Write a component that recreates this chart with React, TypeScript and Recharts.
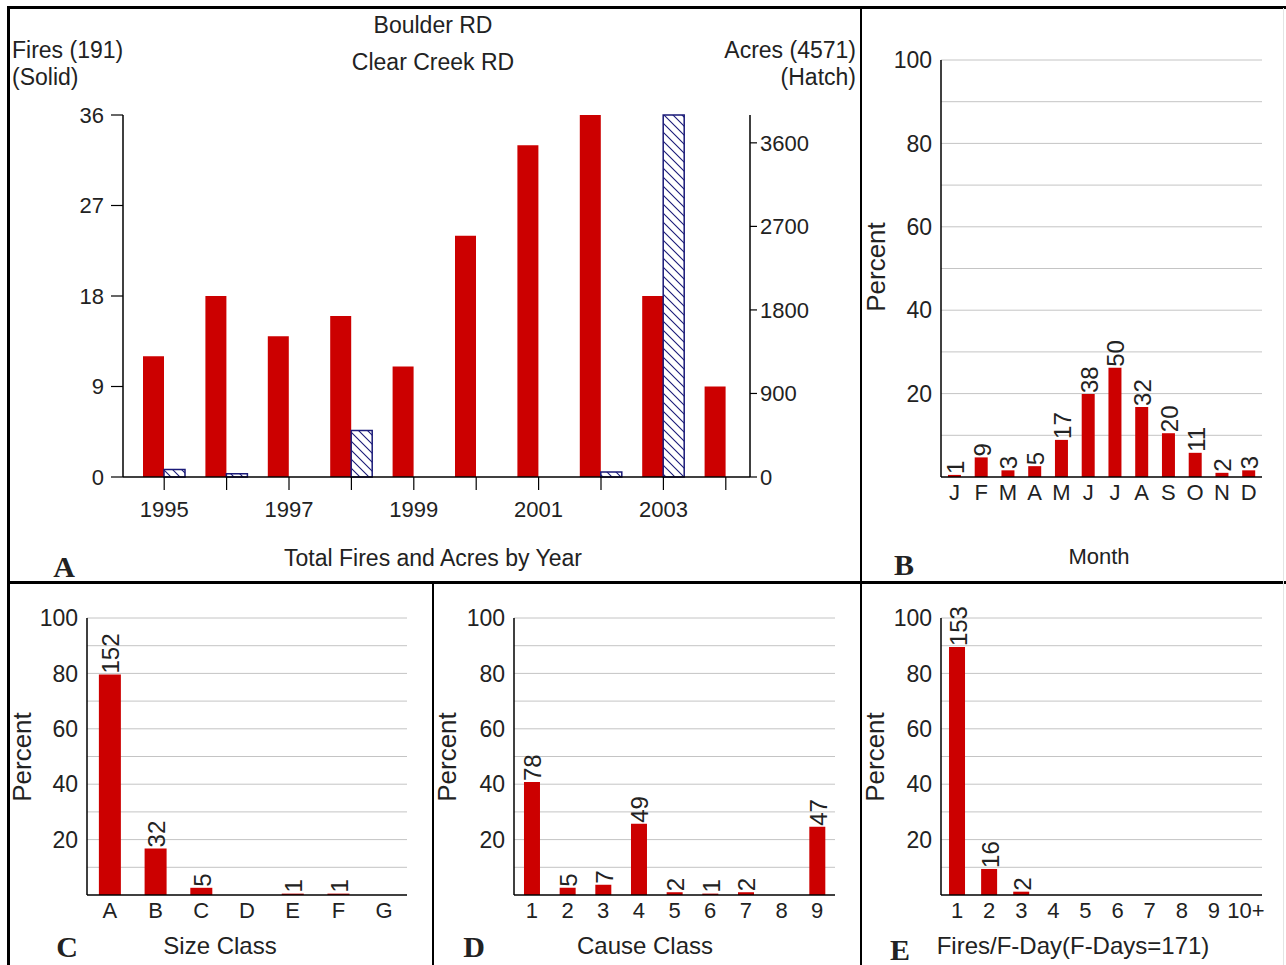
import React from "react";
import { BarChart, Bar, XAxis, YAxis, CartesianGrid, LabelList } from "recharts";

// panel A: fires and acres by year
const years = ["1995", "1996", "1997", "1998", "1999", "2000", "2001", "2002", "2003", "2004"];
const fires = [12, 18, 14, 16, 11, 24, 33, 36, 18, 9];
const acres = [80, 36, 0, 500, 0, 0, 0, 54, 3900, 0];
const fireTicks = [0, 9, 18, 27, 36];
const acreTicks = [0, 900, 1800, 2700, 3600];

// panel B: month
const months = ["J", "F", "M", "A", "M", "J", "J", "A", "S", "O", "N", "D"];
const monthCounts = [1, 9, 3, 5, 17, 38, 50, 32, 20, 11, 2, 3];
const monthPct = [0.5, 4.7, 1.6, 2.6, 8.9, 19.9, 26.2, 16.8, 10.5, 5.8, 1.0, 1.6];

// panel C: size class
const sizeClasses = ["A", "B", "C", "D", "E", "F", "G"];
const sizeCounts = [152, 32, 5, 0, 1, 1, 0];
const sizePct = [79.6, 16.8, 2.6, 0, 0.5, 0.5, 0];

// panel D: cause class
const causeClasses = ["1", "2", "3", "4", "5", "6", "7", "8", "9"];
const causeCounts = [78, 5, 7, 49, 2, 1, 2, 0, 47];
const causePct = [40.8, 2.6, 3.7, 25.7, 1.0, 0.5, 1.0, 0, 24.6];

// panel E: fires per fire-day
const fdayClasses = ["1", "2", "3", "4", "5", "6", "7", "8", "9", "10+"];
const fdayCounts = [153, 16, 2, 0, 0, 0, 0, 0, 0, 0];
const fdayPct = [89.5, 9.4, 1.2, 0, 0, 0, 0, 0, 0, 0];

const pctTicks = [20, 40, 60, 80, 100];
const pctGrid = [10, 20, 30, 40, 50, 60, 70, 80, 90, 100];

const RED = "#CC0000";
const NAVY = "#1a1a78";
const TXT = "#222";
const FONT = "'Liberation Sans', Arial, sans-serif";

const VLabel = (props: any) => {
  const { x, y, width, value } = props;
  if (!value) return null;
  const cx = Number(x) + Number(width) / 2 + 1;
  const ty = Number(y) - 1;
  return (
    <text x={cx} y={ty} transform={`rotate(-90 ${cx} ${ty})`} textAnchor="start" dominantBaseline="central" fontSize={24} fill={TXT}>
      {value}
    </text>
  );
};

const YearTick = (props: any) => {
  const { x, y, payload, index } = props;
  if (index % 2 !== 0) return <g />;
  return (
    <text x={x} y={y} dy="0.71em" textAnchor="middle" fontSize={22} fill={TXT}>
      {payload.value}
    </text>
  );
};

function Txt({ x, y, size = 23, anchor = "middle", rotate = false, bold = false, serif = false, children }: any) {
  const tx = anchor === "middle" ? "-50%" : anchor === "end" ? "-100%" : "0";
  return (
    <div
      style={{
        position: "absolute",
        left: x,
        top: y,
        fontSize: size,
        lineHeight: 1,
        whiteSpace: "nowrap",
        color: TXT,
        fontWeight: bold ? 700 : 400,
        fontFamily: serif ? "'Liberation Serif', 'Times New Roman', serif" : FONT,
        transform: `translate(${tx}, -50%)${rotate ? " rotate(-90deg)" : ""}`,
      }}
    >
      {children}
    </div>
  );
}

function PctPanel({ left, top, width, height, margin, cats, pct, counts, gap }: any) {
  const data = cats.map((c: string, i: number) => ({ name: c, pct: pct[i], count: counts[i] }));
  return (
    <div style={{ position: "absolute", left, top }}>
      <BarChart width={width} height={height} data={data} margin={margin} barCategoryGap={gap}>
        <CartesianGrid horizontalValues={pctGrid} vertical={false} stroke="#c4c4c4" />
        <XAxis
          dataKey="name"
          interval={0}
          height={30}
          tickSize={0}
          tickMargin={7}
          axisLine={{ stroke: "#000", strokeWidth: 1.5 }}
          tick={{ fontSize: 22, fill: TXT }}
        />
        <YAxis
          domain={[0, 100]}
          ticks={pctTicks}
          width={50}
          tickSize={0}
          tickMargin={9}
          axisLine={{ stroke: "#000", strokeWidth: 1.5 }}
          tick={{ fontSize: 23, fill: TXT }}
        />
        <Bar dataKey="pct" fill={RED} isAnimationActive={false}>
          <LabelList dataKey="count" content={VLabel} />
        </Bar>
      </BarChart>
    </div>
  );
}

export default function App() {
  const yearData = years.map((y, i) => ({ year: y, fires: fires[i], acres: acres[i] }));
  const line = (l: number, t: number, w: number, h: number, c = "#000") => (
    <div style={{ position: "absolute", left: l, top: t, width: w, height: h, background: c }} />
  );
  return (
    <div style={{ position: "absolute", left: 0, top: 0, width: 1286, height: 965, background: "#fff", overflow: "hidden", fontFamily: FONT }}>
      {/* panel A */}
      <div style={{ position: "absolute", left: 0, top: 0 }}>
        <BarChart width={860} height={580} data={yearData} margin={{ top: 115, right: 50, bottom: 63, left: 63 }} barGap={0} barSize={21}>
          <defs>
            <pattern id="hatch" patternUnits="userSpaceOnUse" width="9" height="9">
              <rect width="9" height="9" fill="#fff" />
              <path d="M0,0 L9,9 M-3,6 L3,12 M6,-3 L12,3" stroke={NAVY} strokeWidth={1.1} />
            </pattern>
          </defs>
          <XAxis
            dataKey="year"
            interval={0}
            height={40}
            padding={{ left: 10, right: -7 }}
            tickSize={13}
            tickMargin={11}
            axisLine={{ stroke: "#000", strokeWidth: 1.5 }}
            tickLine={{ stroke: "#000", strokeWidth: 1.2 }}
            tick={YearTick}
          />
          <YAxis
            yAxisId="left"
            orientation="left"
            domain={[0, 36]}
            ticks={fireTicks}
            width={60}
            tickSize={12}
            tickMargin={7}
            axisLine={{ stroke: "#000", strokeWidth: 1.5 }}
            tickLine={{ stroke: "#000", strokeWidth: 1.2 }}
            tick={{ fontSize: 22, fill: TXT }}
          />
          <YAxis
            yAxisId="right"
            orientation="right"
            domain={[0, 3900]}
            ticks={acreTicks}
            width={60}
            tickSize={7}
            tickMargin={3}
            axisLine={{ stroke: "#000", strokeWidth: 1.5 }}
            tickLine={{ stroke: "#000", strokeWidth: 1.2 }}
            tick={{ fontSize: 22, fill: TXT }}
          />
          <Bar yAxisId="left" dataKey="fires" fill={RED} isAnimationActive={false} />
          <Bar yAxisId="right" dataKey="acres" fill="url(#hatch)" stroke={NAVY} strokeWidth={1.5} isAnimationActive={false} />
        </BarChart>
      </div>
      <Txt x={433} y={25}>Boulder RD</Txt>
      <Txt x={433} y={62}>Clear Creek RD</Txt>
      <Txt x={12} y={50} anchor="start">Fires (191)</Txt>
      <Txt x={12} y={77} anchor="start">(Solid)</Txt>
      <Txt x={856} y={50} anchor="end">Acres (4571)</Txt>
      <Txt x={856} y={77} anchor="end">(Hatch)</Txt>
      <Txt x={433} y={558}>Total Fires and Acres by Year</Txt>
      <Txt x={64} y={567} size={30} bold serif>A</Txt>

      {/* panel B */}
      <PctPanel
        left={860}
        top={0}
        width={426}
        height={580}
        margin={{ top: 60, right: 24, bottom: 73, left: 31 }}
        cats={months}
        pct={monthPct}
        counts={monthCounts}
        gap="26%"
      />
      <Txt x={876} y={267} size={26} rotate>Percent</Txt>
      <Txt x={1099} y={557} size={22}>Month</Txt>
      <Txt x={904} y={565} size={30} bold serif>B</Txt>

      {/* panel C */}
      <PctPanel
        left={0}
        top={580}
        width={433}
        height={385}
        margin={{ top: 38, right: 26, bottom: 40, left: 37 }}
        cats={sizeClasses}
        pct={sizePct}
        counts={sizeCounts}
        gap="26%"
      />
      <Txt x={22} y={757} size={26} rotate>Percent</Txt>
      <Txt x={220} y={946} size={24}>Size Class</Txt>
      <Txt x={67} y={947} size={30} bold serif>C</Txt>

      {/* panel D */}
      <PctPanel
        left={433}
        top={580}
        width={428}
        height={385}
        margin={{ top: 38, right: 26, bottom: 40, left: 31 }}
        cats={causeClasses}
        pct={causePct}
        counts={causeCounts}
        gap="28%"
      />
      <Txt x={447} y={757} size={26} rotate>Percent</Txt>
      <Txt x={645} y={946} size={24}>Cause Class</Txt>
      <Txt x={474} y={947} size={30} bold serif>D</Txt>

      {/* panel E */}
      <PctPanel
        left={861}
        top={580}
        width={425}
        height={385}
        margin={{ top: 38, right: 24, bottom: 40, left: 30 }}
        cats={fdayClasses}
        pct={fdayPct}
        counts={fdayCounts}
        gap="25%"
      />
      <Txt x={875} y={757} size={26} rotate>Percent</Txt>
      <Txt x={1073} y={946} size={24}>Fires/F-Day(F-Days=171)</Txt>
      <Txt x={900} y={950} size={30} bold serif>E</Txt>

      {/* panel frame */}
      {line(7, 6, 1279, 2.5)}
      {line(7, 6, 2.5, 959)}
      {line(7, 581, 1279, 2.5)}
      {line(859.5, 6, 2.5, 959)}
      {line(431.5, 582, 2.5, 383)}
      {line(1283, 8, 1, 957, "#e4e4e4")}
    </div>
  );
}
